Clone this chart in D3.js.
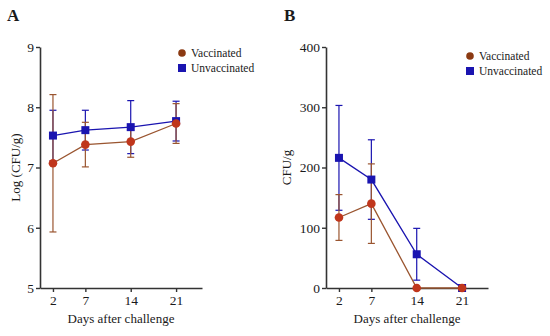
<!DOCTYPE html>
<html>
<head>
<meta charset="utf-8">
<script src="https://cdn.jsdelivr.net/npm/d3@7"></script>
<style>
  body { margin: 0; background: #fff; }
  svg text { font-family: "Liberation Serif", "DejaVu Serif", serif; fill: #1a1a1a; }
</style>
</head>
<body>
<div id="chart"></div>
<script>
// Data
const days = [2, 7, 14, 21];
const dayTicks = ["2", "7", "14", "21"];
const seriesNames = ["Vaccinated", "Unvaccinated"];

// Panel A: Log (CFU/g), mean and error
const logVacMean = [7.07, 7.38, 7.43, 7.73];
const logVacErr = [1.14, 0.37, 0.26, 0.33];
const logUnvMean = [7.53, 7.62, 7.67, 7.77];
const logUnvErr = [0.42, 0.33, 0.44, 0.33];
const logTicks = [5, 6, 7, 8, 9];

// Panel B: CFU/g, mean and error
const cfuVacMean = [117, 140, 0, 0];
const cfuVacErr = [38, 66, 0, 0];
const cfuUnvMean = [216, 180, 56, 0];
const cfuUnvErr = [87, 66, 43, 0];
const cfuTicks = [0, 100, 200, 300, 400];

const colors = {
    vacLine: '#9a5530',
    vacDot: '#c0361c',
    vacLegend: '#8b3a12',
    unv: '#1a14b0'
};

const svg = d3.select("#chart")
    .append("svg")
    .attr("width", 550)
    .attr("height", 336);

function drawPanel(opt) {
    const g = svg.append("g");

    const x = d3.scaleLinear().domain([0, 25]).range([opt.left, opt.left + 162]);
    const y = d3.scaleLinear().domain(opt.yDomain).range([288, 47]);

    // Panel letter
    g.append("text")
        .attr("x", opt.letterX)
        .attr("y", 21)
        .attr("font-size", 17)
        .attr("font-weight", "bold")
        .text(opt.letter);

    // Axes
    const xAxis = g.append("g")
        .attr("transform", `translate(0,${y.range()[0]})`)
        .call(d3.axisBottom(x).tickValues(days).tickFormat((d, i) => dayTicks[i]).tickSize(4).tickSizeOuter(0).tickPadding(3));
    const yAxis = g.append("g")
        .attr("transform", `translate(${opt.left},0)`)
        .call(d3.axisLeft(y).tickValues(opt.yTicks).tickFormat(d3.format("d")).tickSize(4).tickSizeOuter(0).tickPadding(2));

    [xAxis, yAxis].forEach(a => {
        a.select(".domain").attr("stroke", "#333").attr("stroke-width", 1.6);
        a.selectAll(".tick line").attr("stroke", "#333").attr("stroke-width", 1.4);
        a.selectAll(".tick text")
            .attr("font-size", 13.5)
            .attr("font-family", '"Liberation Serif", serif')
            .attr("fill", "#1a1a1a");
    });

    // Axis titles
    g.append("text")
        .attr("x", x(12.5))
        .attr("y", 323)
        .attr("text-anchor", "middle")
        .attr("font-size", 13)
        .text("Days after challenge");

    g.append("text")
        .attr("transform", `translate(${opt.yLabelX},${y(opt.yDomain[0] + (opt.yDomain[1] - opt.yDomain[0]) / 2)}) rotate(-90)`)
        .attr("text-anchor", "middle")
        .attr("font-size", 13)
        .text(opt.yLabel);

    const series = [
        { mean: opt.unvMean, err: opt.unvErr, color: colors.unv, fill: colors.unv, shape: "square" },
        { mean: opt.vacMean, err: opt.vacErr, color: colors.vacLine, fill: colors.vacDot, shape: "circle" }
    ];

    // Error bars
    series.forEach(s => {
        const pts = days.map((d, i) => ({ d, m: s.mean[i], e: s.err[i] })).filter(p => p.e > 0);
        const eb = g.append("g").attr("stroke", s.color).attr("stroke-width", 1.2);
        eb.selectAll(".v").data(pts).enter().append("line")
            .attr("x1", p => x(p.d)).attr("x2", p => x(p.d))
            .attr("y1", p => y(p.m - p.e)).attr("y2", p => y(p.m + p.e));
        eb.selectAll(".top").data(pts).enter().append("line")
            .attr("x1", p => x(p.d) - 3.5).attr("x2", p => x(p.d) + 3.5)
            .attr("y1", p => y(p.m + p.e)).attr("y2", p => y(p.m + p.e));
        eb.selectAll(".bot").data(pts).enter().append("line")
            .attr("x1", p => x(p.d) - 3.5).attr("x2", p => x(p.d) + 3.5)
            .attr("y1", p => y(p.m - p.e)).attr("y2", p => y(p.m - p.e));
    });

    // Lines and markers
    series.forEach(s => {
        const line = d3.line().x((d, i) => x(days[i])).y(d => y(d));
        g.append("path")
            .datum(s.mean)
            .attr("fill", "none")
            .attr("stroke", s.color)
            .attr("stroke-width", 1.3)
            .attr("d", line);

        if (s.shape === "square") {
            g.selectAll(null).data(s.mean).enter().append("rect")
                .attr("x", (d, i) => x(days[i]) - 4)
                .attr("y", d => y(d) - 4)
                .attr("width", 8).attr("height", 8)
                .attr("fill", s.fill);
        } else {
            g.selectAll(null).data(s.mean).enter().append("circle")
                .attr("cx", (d, i) => x(days[i]))
                .attr("cy", d => y(d))
                .attr("r", 4.3)
                .attr("fill", s.fill);
        }
    });

    // Legend
    const lg = g.append("g").attr("transform", `translate(${opt.legendX},${opt.legendY})`);
    lg.append("circle").attr("cx", 0).attr("cy", 0).attr("r", 3.8).attr("fill", colors.vacLegend);
    lg.append("rect").attr("x", -4).attr("y", 11).attr("width", 8).attr("height", 8).attr("fill", colors.unv);
    lg.selectAll(null).data(seriesNames).enter().append("text")
        .attr("x", 9)
        .attr("y", (d, i) => i * 15 + 4)
        .attr("font-size", 11.5)
        .text(d => d);
}

drawPanel({
    letter: "A", letterX: 7, left: 40, yDomain: [5, 9], yTicks: logTicks,
    yLabel: "Log (CFU/g)", yLabelX: 20,
    vacMean: logVacMean, vacErr: logVacErr, unvMean: logUnvMean, unvErr: logUnvErr,
    legendX: 182, legendY: 53
});

drawPanel({
    letter: "B", letterX: 284, left: 326, yDomain: [0, 400], yTicks: cfuTicks,
    yLabel: "CFU/g", yLabelX: 291,
    vacMean: cfuVacMean, vacErr: cfuVacErr, unvMean: cfuUnvMean, unvErr: cfuUnvErr,
    legendX: 470, legendY: 56
});
</script>
</body>
</html>
